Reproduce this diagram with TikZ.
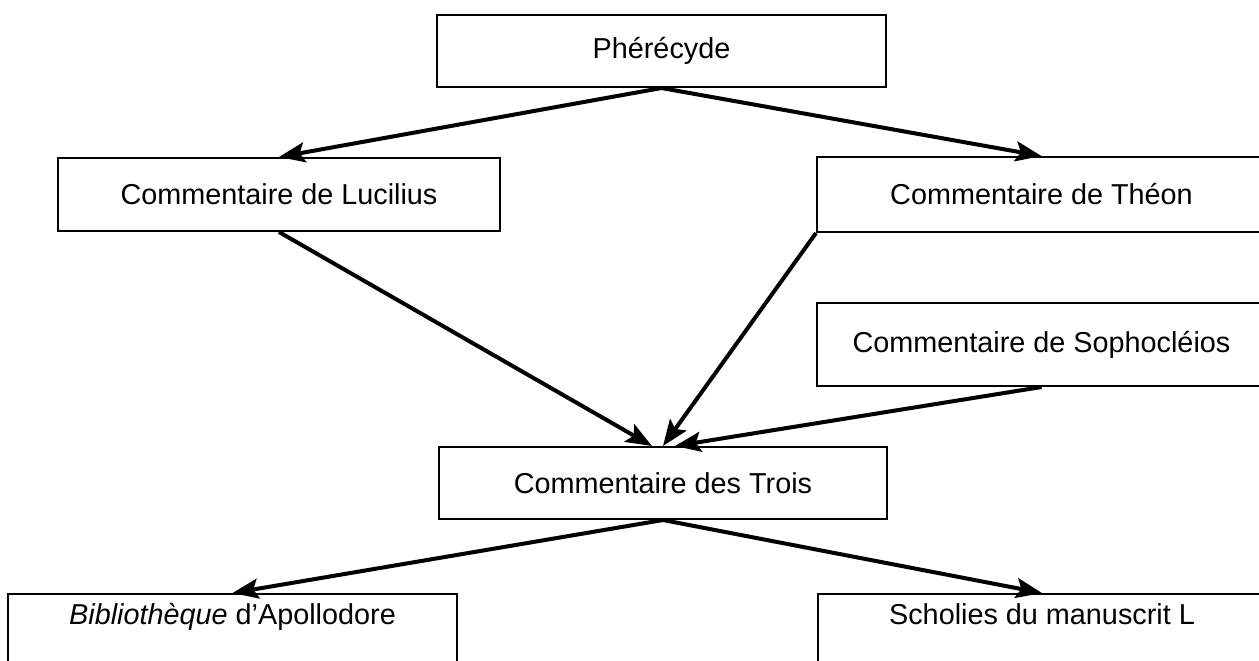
\documentclass[tikz,border=0pt]{standalone}
\usepackage{fontspec}
\setmainfont{Liberation Sans}
\usepackage{tikz}
\usetikzlibrary{shapes.geometric, arrows.meta}
\tikzstyle{source} = [rectangle, draw=black, line width=1pt, minimum width=224.5pt, minimum height=36pt, text centered, font=\fontsize{14.4pt}{17pt}\selectfont]
\tikzstyle{opensource} = [source, anchor=north, minimum height=0pt, inner ysep=4pt, text height=11pt, text depth=40pt]
\tikzstyle{arrow} = [line width=2pt,->,>={Stealth[length=13pt,width=10pt,inset=2.5pt]}]

\begin{document}
\begin{tikzpicture}[x=0.5pt, y=-0.5pt]
        \useasboundingbox (0,0) rectangle (1259,660);
        \node (pherecyde) [source] at (661.5,51) {Phérécyde};
        \node (lucilius) [source, minimum width=221pt, minimum height=36.5pt] at (279,194.5) {Commentaire de Lucilius};
        \node (theon) [source, minimum height=37.5pt] at (1041.5,194.5) {Commentaire de Théon};
        \node (sophocleios) [source, minimum height=41.5pt] at (1041.5,344.5) {Commentaire de Sophocléios};
        \node (trois) [source, minimum width=224pt] at (663,483) {Commentaire des Trois};
        \node (bibliotheque) [opensource] at (232.5,593) {\textit{Bibliothèque} d’Apollodore};
        \node (scholies) [opensource, minimum width=224pt] at (1042,593) {Scholies du manuscrit L};

        \draw [arrow] (pherecyde.south) -- (lucilius.north);
        \draw [arrow] (pherecyde.south) -- (theon.north);
        \draw [arrow] (lucilius.south) -- ([xshift=-5.5pt]trois.north);
        \draw [arrow] (theon.south west) -- (trois.north);
        \draw [arrow] (sophocleios.south) -- ([xshift=6pt]trois.north);
        \draw [arrow] (trois.south) -- (bibliotheque.north);
        \draw [arrow] (trois.south) -- (scholies.north);
    \end{tikzpicture}
\end{document}
